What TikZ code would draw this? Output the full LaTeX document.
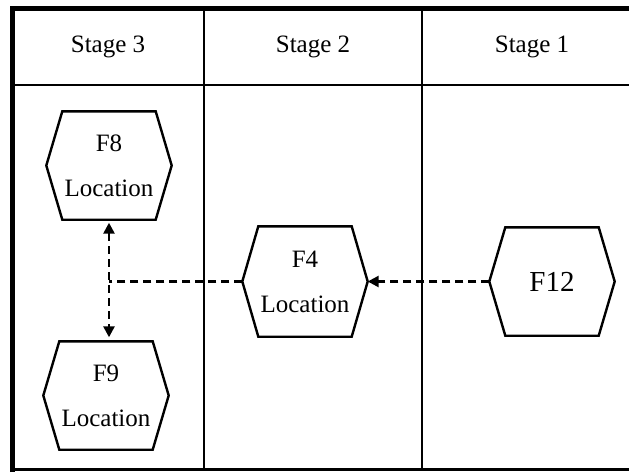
\documentclass[tikz,border=0pt]{standalone}
\usepackage{fontspec}
\setmainfont{Liberation Serif}
\usetikzlibrary{arrows.meta}
\begin{document}
\begin{tikzpicture}[x=1pt,y=-1pt,
  >={Triangle[length=11pt,width=11pt]},
  hexnode/.style={minimum width=125pt, minimum height=108pt, inner sep=0pt, align=center, font=\fontsize{25}{45}\selectfont},
  hexline/.style={line width=2.4pt, line join=miter},
  dashline/.style={line width=2.5pt, dash pattern=on 8pt off 5pt},
  gridline/.style={line width=2.2pt},
  head/.style={font=\fontsize{25}{30}\selectfont, inner sep=0pt}]
\useasboundingbox (0,0) rectangle (629,472);
\begin{scope}
\clip (0,0) rectangle (629,472);
\draw[gridline] (12,85) -- (650,85);
\draw[gridline] (204,8) -- (204,470);
\draw[gridline] (422,8) -- (422,470);
\draw[line width=3pt] (12,469.5) -- (650,469.5);
\draw[line width=5pt] (12.5,472) -- (12.5,8.5) -- (650,8.5);
\end{scope}
% headers
\node[head] (h3) at (108,46.5) {Stage 3};
\node[head] (h2) at (313,46.5) {Stage 2};
\node[head] (h1) at (532,46.5) {Stage 1};
% hexagon nodes
\node[hexnode] (F8) at (109,165.5) {F8\\Location};
\node[hexnode] (F9) at (106,395.5) {F9\\Location};
\node[hexnode, minimum height=110pt] (F4) at (305,281.5) {F4\\Location};
\node[hexnode, font=\fontsize{29}{35}\selectfont] (F12) at (552,281.5) {F12};
\foreach \n in {F8,F9,F4,F12}
  \draw[hexline] (\n.west) -- ([xshift=16pt]\n.north west) -- ([xshift=-16pt]\n.north east)
    -- (\n.east) -- ([xshift=-16pt]\n.south east) -- ([xshift=16pt]\n.south west) -- cycle;
% connectors
\draw[dashline, <->, shorten <=3pt, shorten >=4pt] (F8.south) -- (F8.south |- F9.north);
\draw[dashline] (F4.west) -- (F8.south |- F4.west);
\draw[dashline, ->] (F12.west) -- (F4.east);
\end{tikzpicture}
\end{document}
